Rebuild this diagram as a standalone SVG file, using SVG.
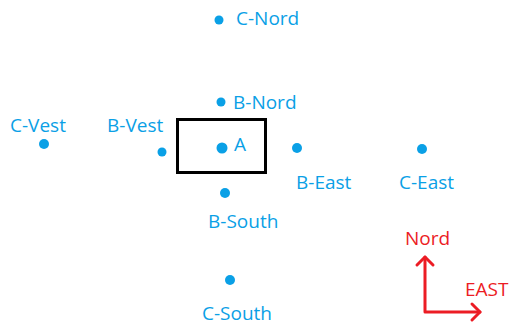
<svg xmlns="http://www.w3.org/2000/svg" width="513" height="325" viewBox="0 0 513 325">
<style>
.lb{font-family:"Open Sans","Liberation Sans",sans-serif;font-size:19px;fill:#0aa0e6}
.dot{fill:#0aa0e6}
.rd{font-family:"Open Sans","Liberation Sans",sans-serif;font-size:19px;fill:#ec1c24}
.ar{fill:none;stroke:#ec1c24;stroke-width:3;stroke-linecap:round;stroke-linejoin:round}
</style>
<rect width="513" height="325" fill="#ffffff"/>
<g id="C-Nord"><circle class="dot" cx="219" cy="20" r="4.5"/><text class="lb" x="236" y="25">C-Nord</text></g>
<g id="B-Nord"><circle class="dot" cx="221" cy="102" r="4.5"/><text class="lb" x="233" y="109">B-Nord</text></g>
<g id="A"><rect x="177.5" y="119.5" width="88" height="53" fill="none" stroke="#000" stroke-width="3"/><circle class="dot" cx="222" cy="148" r="5.5"/><text class="lb" x="234" y="151">A</text></g>
<g id="B-Vest"><circle class="dot" cx="162" cy="152" r="4.5"/><text class="lb" x="107" y="132">B-Vest</text></g>
<g id="C-Vest"><circle class="dot" cx="44" cy="144" r="5"/><text class="lb" x="10" y="132">C-Vest</text></g>
<g id="B-East"><circle class="dot" cx="297" cy="148" r="5"/><text class="lb" x="296" y="189">B-East</text></g>
<g id="C-East"><circle class="dot" cx="422" cy="149" r="5"/><text class="lb" x="399" y="189">C-East</text></g>
<g id="B-South"><circle class="dot" cx="225" cy="193" r="5"/><text class="lb" x="208" y="228">B-South</text></g>
<g id="C-South"><circle class="dot" cx="230" cy="280" r="5"/><text class="lb" x="202" y="320">C-South</text></g>
<g id="compass">
<path class="ar" d="M425 257 V312 H480"/>
<path class="ar" d="M417 265 L425 257 L433 265"/>
<path class="ar" d="M472 304 L480 312 L472 320"/>
<text class="rd" x="405" y="245">Nord</text>
<text class="rd" x="465" y="296">EAST</text>
</g>
</svg>
